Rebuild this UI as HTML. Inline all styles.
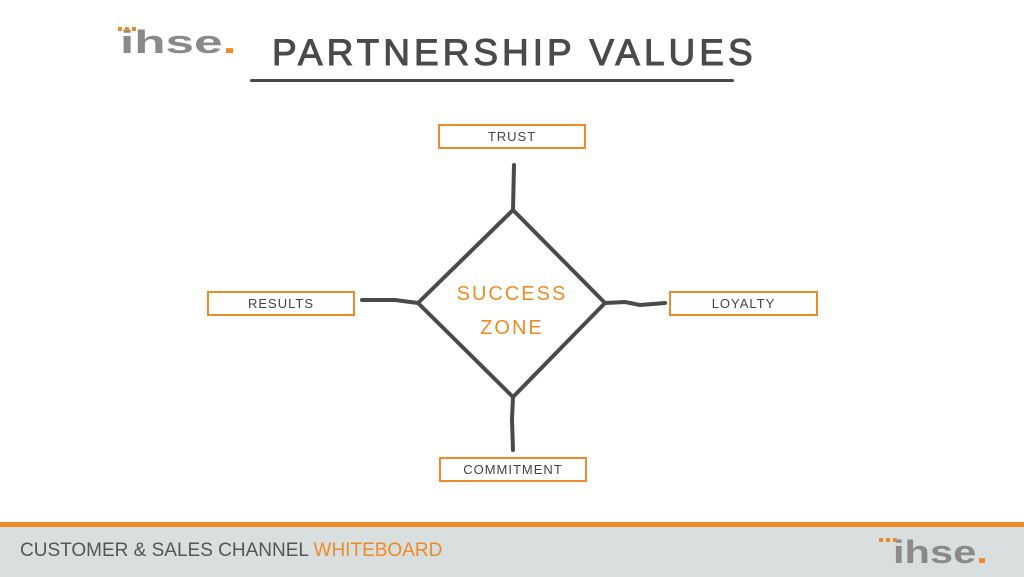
<!DOCTYPE html>
<html><head><style>
body{margin:0;width:1024px;height:577px;overflow:hidden;background:#fff;font-family:"Liberation Sans",sans-serif;position:relative}
.box{position:absolute;border:2px solid #f0892a;box-sizing:border-box;height:25px;font-size:13px;color:#444;text-align:center;line-height:21px;letter-spacing:1px}
.logo{position:absolute;font-weight:bold;color:#8a8a8a;transform-origin:0 0;line-height:1}
</style></head><body>
<div class="logo" style="left:120px;top:26px;font-size:32px;transform:scaleX(1.6)">ihse<span style="color:#f08a24">.</span></div>
<div style="position:absolute;left:118px;top:27px;width:18px;height:4px;background:repeating-linear-gradient(90deg,#f08a24 0 4px,transparent 4px 7px)"></div>
<div style="position:absolute;left:272px;top:32px;font-size:37px;color:#4a4a4a;letter-spacing:4px;-webkit-text-stroke:1px #4a4a4a">PARTNERSHIP VALUES</div>
<div style="position:absolute;left:250px;top:79px;width:484px;height:3px;background:#4a4a4a;border-radius:2px"></div>
<div class="box" style="left:438px;top:124px;width:148px">TRUST</div>
<div class="box" style="left:207px;top:291px;width:148px">RESULTS</div>
<div class="box" style="left:669px;top:291px;width:149px">LOYALTY</div>
<div class="box" style="left:439px;top:457px;width:148px">COMMITMENT</div>
<svg style="position:absolute;left:0;top:0" width="1024" height="577">
<g stroke="#4a4a4a" stroke-width="4" fill="none" stroke-linecap="round" stroke-linejoin="round">
<path d="M513,210 L418,303 L513,397 L605,303 Z"/>
<path d="M514,165 L513,210"/><path d="M513,397 L512,420 L513,450"/>
<path d="M362,300 L395,300 L418,303"/><path d="M605,303 L625,302 L640,305 L665,303"/>
</g>
<text x="512" y="300" text-anchor="middle" font-size="20" fill="#f08a24" font-family="Liberation Sans" letter-spacing="2">SUCCESS</text>
<text x="512" y="334" text-anchor="middle" font-size="20" fill="#f08a24" font-family="Liberation Sans" letter-spacing="2">ZONE</text>
</svg>
<div style="position:absolute;left:0;top:522px;width:1024px;height:5px;background:#f08a24"></div>
<div style="position:absolute;left:0;top:527px;width:1024px;height:50px;background:#d9dfdf"></div>
<div style="position:absolute;left:20px;top:540px;font-size:19px;color:#555;letter-spacing:0">CUSTOMER &amp; SALES CHANNEL <span style="color:#f08a24">WHITEBOARD</span></div>
<div class="logo" style="left:893px;top:536px;font-size:32px;transform:scaleX(1.3)">ihse<span style="color:#f08a24">.</span></div>
<div style="position:absolute;left:879px;top:538px;width:18px;height:4px;background:repeating-linear-gradient(90deg,#f08a24 0 4px,transparent 4px 7px)"></div>
</body></html>
